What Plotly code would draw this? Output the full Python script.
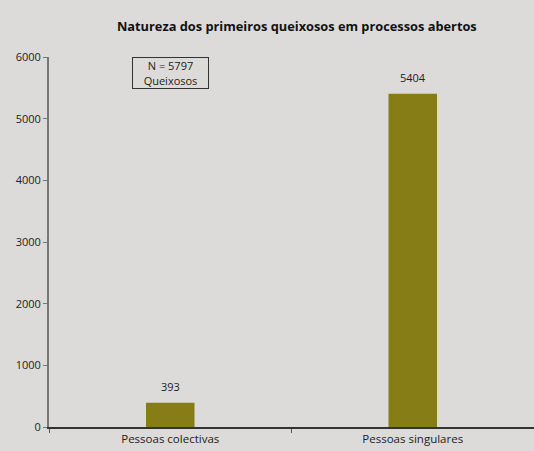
import plotly.graph_objects as go

categories = ["Pessoas colectivas", "Pessoas singulares"]
values = [393, 5404]
y_ticks = [0, 1000, 2000, 3000, 4000, 5000, 6000]
title = "Natureza dos primeiros queixosos em processos abertos"
note = "N = 5797<br>Queixosos"

bg = "#dcdbd9"
fig = go.Figure(go.Bar(
    x=categories, y=values, width=0.2,
    marker=dict(color="#867d16", line=dict(width=0)),
    hoverinfo="x+y",
))
annotations = [dict(x=c, y=v, xref="x", yref="y", text=str(v), showarrow=False,
                    yanchor="bottom", yshift=7, font=dict(size=11, color="#222"))
               for c, v in zip(categories, values)]
annotations.append(dict(x=0, y=5740, xref="x", yref="y", text=note, showarrow=False,
                        width=73, height=28,
                        bordercolor="#333", borderwidth=1, borderpad=1,
                        bgcolor=bg, font=dict(size=11, color="#222"), align="center"))
fig.update_layout(
    width=534, height=451,
    paper_bgcolor=bg, plot_bgcolor=bg,
    margin=dict(l=49, r=0, t=57, b=24),
    font=dict(family="Open Sans", size=11, color="#222"),
    title=dict(text="<b>" + title + "</b>", x=0.511, xanchor="center", xref="paper",
               y=1 - 27 / 451, yanchor="middle", font=dict(size=12.8, color="#111")),
    showlegend=False,
    annotations=annotations,
)
fig.update_yaxes(range=[0, 6000], tickvals=y_ticks, showgrid=False, zeroline=False,
                 showline=True, linecolor="#777", linewidth=2, ticks="outside",
                 ticklen=4, tickcolor="#777", tickfont=dict(size=11))
fig.update_xaxes(showgrid=False, showline=True, linecolor="#333", linewidth=2,
                 ticks="outside", tickson="boundaries", ticklen=4, tickcolor="#555",
                 tickfont=dict(size=11.5))
fig.write_html("out.html", config={"displayModeBar": False})

with open("out.html", "r", encoding="utf-8") as f:
    html = f.read()
html = html.replace("<body>", '<body style="margin:0;padding:0;">', 1)
with open("out.html", "w", encoding="utf-8") as f:
    f.write(html)
